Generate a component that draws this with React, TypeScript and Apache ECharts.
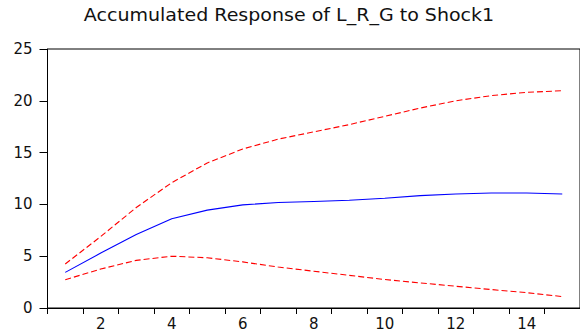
import React, { useEffect, useRef } from "react";
import * as echarts from "echarts";

const titleText = "Accumulated Response of L_R_G to Shock1";
const periods = ["1", "2", "3", "4", "5", "6", "7", "8", "9", "10", "11", "12", "13", "14", "15"];
const response = [3.44, 5.3, 7.1, 8.62, 9.45, 9.95, 10.18, 10.28, 10.4, 10.6, 10.85, 11.0, 11.1, 11.1, 11.0];
const upperBand = [4.25, 6.9, 9.7, 12.1, 14.0, 15.35, 16.3, 17.0, 17.7, 18.5, 19.3, 20.0, 20.5, 20.82, 20.97];
const lowerBand = [2.73, 3.76, 4.6, 5.0, 4.85, 4.45, 3.95, 3.55, 3.15, 2.75, 2.42, 2.1, 1.78, 1.48, 1.1];

export default function App() {
  const ref = useRef<HTMLDivElement>(null);
  useEffect(() => {
    if (!ref.current) return;
    const chart = echarts.init(ref.current, null, { renderer: "svg" });
    const labelFont = "DejaVu Sans";
    chart.setOption({
      animation: false,
      backgroundColor: "#ffffff",
      graphic: [
        {
          type: "text",
          x: 289,
          y: 14.5,
          scaleX: 1.12,
          style: {
            text: titleText,
            font: "17px 'DejaVu Sans'",
            fill: "#111111",
            textAlign: "center",
            textVerticalAlign: "middle",
          },
        },
      ],
      grid: {
        left: 47.5,
        right: -6,
        top: 49,
        bottom: 25,
        show: true,
        borderColor: "#000000",
        borderWidth: 1,
        backgroundColor: "transparent",
      },
      xAxis: {
        type: "category",
        data: periods,
        boundaryGap: true,
        axisLine: { show: true, lineStyle: { color: "#000000", width: 1 } },
        axisTick: { show: true, interval: 0, length: 6, lineStyle: { color: "#000000" } },
        axisLabel: {
          interval: (index: number, value: string) => Number(value) % 2 === 0,
          color: "#111111",
          fontFamily: labelFont,
          fontSize: 15,
          margin: 8,
        },
        splitLine: { show: false },
      },
      yAxis: {
        type: "value",
        min: 0,
        max: 25,
        interval: 5,
        axisLine: { show: true, lineStyle: { color: "#000000", width: 1 } },
        axisTick: { show: true, length: 8, lineStyle: { color: "#000000" } },
        axisLabel: {
          color: "#111111",
          fontFamily: labelFont,
          fontSize: 15,
          margin: 15,
        },
        splitLine: { show: false },
      },
      series: [
        {
          type: "line",
          data: upperBand,
          showSymbol: false,
          symbol: "none",
          lineStyle: { color: "#ff0000", width: 1.1, type: [6, 3] },
          z: 2,
        },
        {
          type: "line",
          data: response,
          showSymbol: false,
          symbol: "none",
          lineStyle: { color: "#0000ff", width: 1.1 },
          z: 3,
        },
        {
          type: "line",
          data: lowerBand,
          showSymbol: false,
          symbol: "none",
          lineStyle: { color: "#ff0000", width: 1.1, type: [6, 3] },
          z: 2,
        },
      ],
    });
    return () => chart.dispose();
  }, []);
  return (
    <div
      ref={ref}
      style={{ position: "fixed", left: 0, top: 0, width: 580, height: 333, background: "#fff" }}
    />
  );
}
